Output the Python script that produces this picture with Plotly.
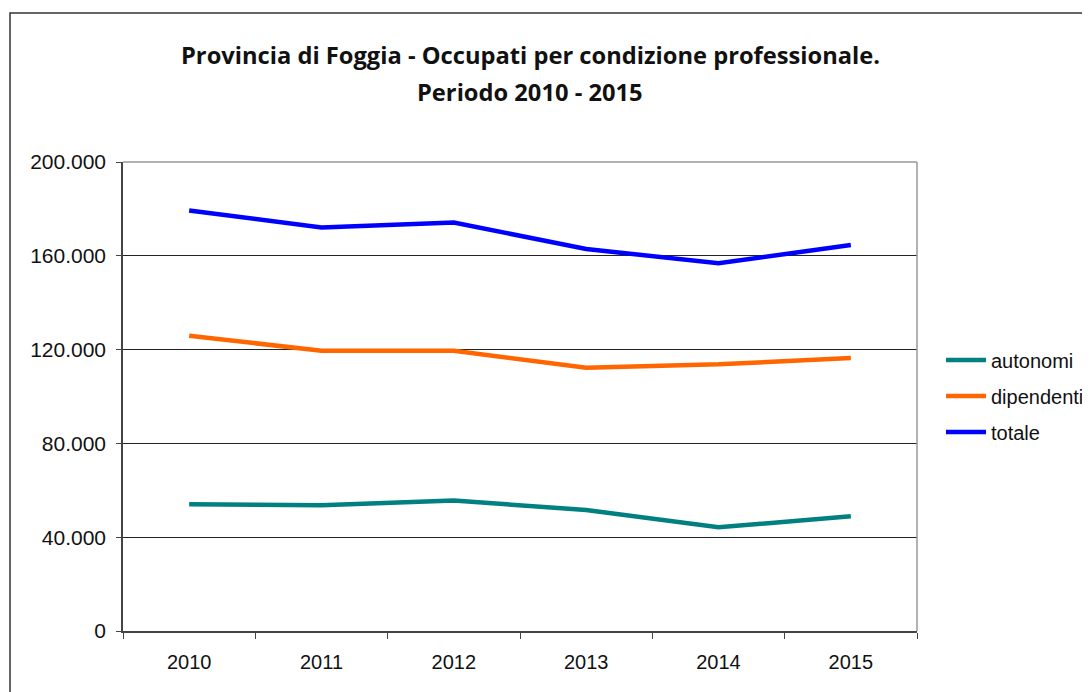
import plotly.graph_objects as go

years = ["2010", "2011", "2012", "2013", "2014", "2015"]
autonomi = [54000, 53600, 55600, 51600, 44200, 48900]
dipendenti = [125900, 119500, 119500, 112300, 113700, 116400]
totale = [179300, 172100, 174200, 162900, 156800, 164600]
y_ticks = [0, 40000, 80000, 120000, 160000, 200000]

series = [("autonomi", autonomi, "#008080"),
          ("dipendenti", dipendenti, "#FF6600"),
          ("totale", totale, "#0000FF")]

fig = go.Figure()
for name, vals, col in series:
    fig.add_trace(go.Scatter(x=years, y=vals, name=name, mode="lines",
                             legendgroup=name,
                             line=dict(color=col, width=4.5)))

OFF = 8  # page body margin
W, H = 1130, 692
L = 123 - OFF
T = 162 - OFF
R = W - (917 - OFF)
B = H - (631 - OFF)
pw, ph = W - L - R, H - T - B

def px_x(x):
    return (x - OFF - L) / pw

def px_y(y):
    return (H - B - (y - OFF)) / ph

fig.update_layout(
    width=W, height=H,
    margin=dict(l=L, r=R, t=T, b=B, pad=0),
    paper_bgcolor="white", plot_bgcolor="white",
    separators=",.",
    font=dict(family="Liberation Sans, Arial, sans-serif", size=20, color="#111"),
    showlegend=True,
    legend=dict(x=px_x(941), xanchor="left", y=px_y(396), yanchor="middle",
                font=dict(size=20, color="#111"), tracegroupgap=7,
                traceorder="grouped", bgcolor="rgba(0,0,0,0)", itemwidth=40),
    xaxis=dict(type="category", tickson="boundaries", ticks="outside", ticklen=6,
               tickcolor="#444", showline=True, linecolor="#444", linewidth=1.5,
               showgrid=False, range=[-0.5, 5.5], tickfont=dict(size=20),
               ticklabelstandoff=12),
    yaxis=dict(range=[0, 200000], tickvals=y_ticks, tickformat=",d",
               ticks="outside", ticklen=5, tickcolor="#444",
               showline=True, linecolor="#444", linewidth=1.5,
               showgrid=True, gridcolor="#222", gridwidth=1, zeroline=False,
               tickfont=dict(size=21), ticklabelstandoff=6),
)

# top and right plot borders (gray)
fig.add_shape(type="line", xref="paper", yref="paper", x0=0, x1=1, y0=1, y1=1,
              line=dict(color="#999", width=1.5), layer="above")
fig.add_shape(type="line", xref="paper", yref="paper", x0=1, x1=1, y0=0, y1=1,
              line=dict(color="#999", width=1.5), layer="above")
# outer chart border
fig.add_shape(type="rect", xref="paper", yref="paper",
              x0=px_x(10), x1=px_x(1200), y0=px_y(800), y1=px_y(13),
              line=dict(color="#333", width=1.5), fillcolor="rgba(0,0,0,0)")

title_font = dict(family="Open Sans, Noto Sans, sans-serif", size=23.7, color="#111")
fig.add_annotation(text="<b>Provincia di Foggia - Occupati per condizione professionale.</b>",
                   xref="paper", yref="paper", x=px_x(530), y=px_y(55),
                   xanchor="center", yanchor="middle", showarrow=False, font=title_font)
fig.add_annotation(text="<b>Periodo 2010 - 2015</b>",
                   xref="paper", yref="paper", x=px_x(530), y=px_y(92),
                   xanchor="center", yanchor="middle", showarrow=False, font=title_font)

fig.write_html("out.html")
